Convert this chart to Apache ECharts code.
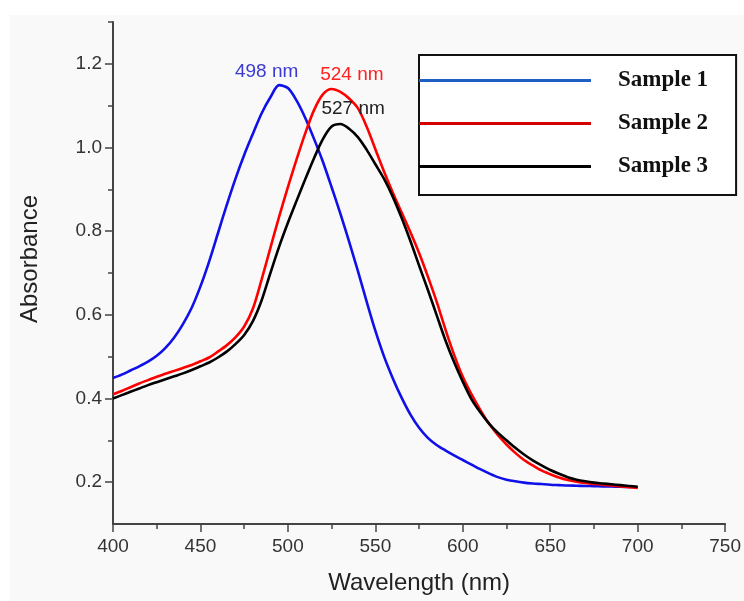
<!DOCTYPE html>
<html>
<head>
<meta charset="utf-8">
<script src="https://cdn.jsdelivr.net/npm/echarts@6/dist/echarts.min.js"></script>
<style>
  html, body { margin: 0; padding: 0; background: #fff; }
  #chart { width: 744px; height: 601px; }
</style>
</head>
<body>
<div id="chart"></div>
<script>
// wavelength grid (nm), shared by the three spectra
const wl = [400,405,410,415,420,425,430,435,440,445,450,455,460,465,470,475,480,485,490,495,
            500,505,510,515,520,525,530,535,540,545,550,555,560,565,570,575,580,585,590,595,
            600,605,610,615,620,625,630,635,640,645,650,655,660,665,670,675,680,685,690,695,700];
// Sample 1 (blue)
const abs1 = [.449,.457,.467,.477,.488,.502,.521,.546,.578,.617,.668,.728,.795,.862,.925,.982,1.033,1.082,1.12,1.149,
              1.142,1.112,1.07,1.02,.966,.905,.842,.775,.705,.632,.562,.5,.448,.402,.362,.33,.306,.289,.276,.264,
              .253,.242,.231,.221,.212,.206,.202,.199,.197,.1955,.194,.193,.192,.1915,.191,.1905,.19,.1895,.189,.1885,.188];
// Sample 2 (red)
const abs2 = [.41,.418,.427,.436,.444,.452,.459,.466,.473,.48,.489,.498,.512,.527,.546,.572,.615,.685,.76,.835,
              .905,.972,1.035,1.09,1.127,1.14,1.133,1.117,1.094,1.05,.996,.942,.892,.845,.798,.748,.692,.632,.566,.505,
              .452,.41,.373,.34,.313,.29,.27,.253,.24,.228,.219,.211,.205,.201,.198,.196,.194,.192,.19,.188,.186];
// Sample 3 (black)
const abs3 = [.40,.408,.416,.424,.432,.439,.446,.453,.46,.468,.477,.486,.498,.512,.53,.552,.585,.635,.7,.763,
              .82,.873,.925,.975,1.02,1.05,1.056,1.045,1.025,.995,.96,.925,.882,.832,.777,.718,.66,.6,.54,.487,
              .44,.398,.367,.34,.318,.3,.282,.266,.252,.24,.229,.22,.212,.206,.202,.199,.197,.195,.193,.191,.189];

const names = ['Sample 1', 'Sample 2', 'Sample 3'];
const peaks = [[497, 1.15], [524, 1.14], [527, 1.057]];
const peakLabels = ['498 nm', '524 nm', '527 nm'];
const yMajor = [0.2, 0.4, 0.6, 0.8, 1.0, 1.2];
const yMinor = [0.3, 0.5, 0.7, 0.9, 1.1, 1.3];

const sans = '"Liberation Sans", Arial, sans-serif';
const axisCol = '#444';

function pairs(xs, ys) { return xs.map((x, i) => [x, ys[i]]); }

function makeSeries(name, ys, color, peak, label, labelColor, offset) {
  return {
    name: name,
    type: 'line',
    data: pairs(wl, ys),
    smooth: 0.3,
    showSymbol: false,
    lineStyle: { color: color, width: 2.6 },
    itemStyle: { color: color },
    markPoint: {
      symbol: 'circle',
      symbolSize: 0,
      data: [{ coord: peak }],
      label: {
        show: true, position: 'top', offset: offset,
        formatter: label, color: labelColor,
        fontFamily: sans, fontSize: 19
      }
    }
  };
}

var myChart = echarts.init(document.getElementById('chart'));

myChart.setOption({
  backgroundColor: '#fff',
  animation: false,
  graphic: [{
    type: 'rect', z: -10, silent: true,
    shape: { x: 10, y: 15, width: 734, height: 586 },
    style: { fill: '#f9f9f9' }
  }],
  grid: { left: 113, right: 16, top: 22, bottom: 77, containLabel: false },
  legend: {
    orient: 'vertical',
    left: 419, top: 55,
    padding: [14, 28, 17, 0],
    itemGap: 20,
    itemWidth: 172,
    itemHeight: 3,
    icon: 'rect',
    backgroundColor: '#fff',
    borderColor: '#111',
    borderWidth: 2,
    borderRadius: 0,
    textStyle: {
      fontFamily: '"Liberation Serif", "Times New Roman", serif',
      fontWeight: 'bold', fontSize: 23, color: '#111',
      padding: [0, 0, 0, 22]
    },
    data: [
      { name: names[0], itemStyle: { color: '#1f5fc4' } },
      { name: names[1], itemStyle: { color: '#d40000' } },
      { name: names[2], itemStyle: { color: '#000' } }
    ]
  },
  xAxis: {
    type: 'value',
    min: 400, max: 750, interval: 50,
    name: 'Wavelength (nm)',
    nameLocation: 'middle', nameGap: 47,
    nameTextStyle: { fontFamily: sans, fontSize: 24, color: '#222' },
    axisLine: { show: true, lineStyle: { color: axisCol, width: 2 } },
    axisTick: { show: true, length: 8, lineStyle: { color: axisCol, width: 1.5 } },
    minorTick: { show: true, splitNumber: 2, length: 5, lineStyle: { color: axisCol, width: 1.5 } },
    axisLabel: { fontFamily: sans, fontSize: 19, color: '#333', margin: 13 },
    splitLine: { show: false }
  },
  yAxis: [{
    type: 'value',
    min: 0.1, max: 1.3,
    name: 'Absorbance',
    nameLocation: 'middle', nameGap: 71,
    nameTextStyle: { fontFamily: sans, fontSize: 24, color: '#222', padding: [0, 0, 0, 28] },
    axisLine: { show: true, lineStyle: { color: axisCol, width: 2 } },
    axisTick: { show: true, length: 8, customValues: yMajor, lineStyle: { color: axisCol, width: 1.5 } },
    axisLabel: { customValues: yMajor, formatter: v => v.toFixed(1), fontFamily: sans, fontSize: 19, color: '#333', margin: 11 },
    splitLine: { show: false }
  }, {
    type: 'value',
    min: 0.1, max: 1.3,
    position: 'left', offset: 0,
    axisLine: { show: false },
    axisTick: { show: true, length: 5, customValues: yMinor, lineStyle: { color: axisCol, width: 1.5 } },
    axisLabel: { show: false },
    splitLine: { show: false }
  }],
  series: [
    makeSeries(names[0], abs1, '#1010e8', peaks[0], peakLabels[0], '#3a3ad0', [-16, 2]),
    makeSeries(names[1], abs2, '#ff0000', peaks[1], peakLabels[1], '#ff2020', [22, 0]),
    makeSeries(names[2], abs3, '#000000', peaks[2], peakLabels[2], '#222', [18, 0])
  ]
});
</script>
</body>
</html>
